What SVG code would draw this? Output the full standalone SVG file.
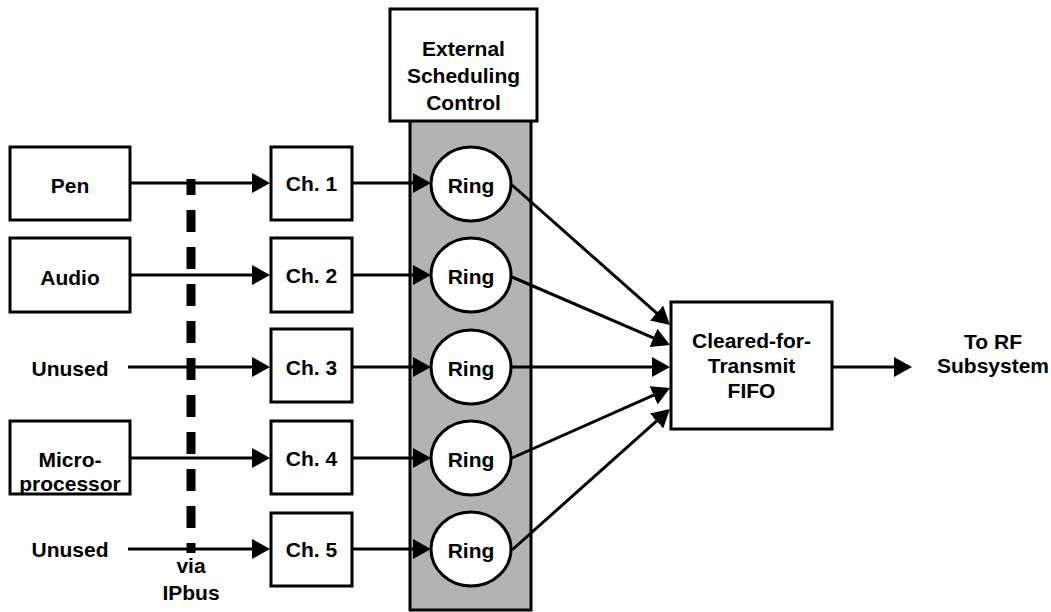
<svg xmlns="http://www.w3.org/2000/svg" width="1051" height="612" viewBox="0 0 1051 612">
  <defs>
    <style>
      .box { fill: #ffffff; stroke: #000000; stroke-width: 3; }
      .ring { fill: #ffffff; stroke: #000000; stroke-width: 3; }
      .lbl { font-family: "Liberation Sans", Arial, Helvetica, sans-serif; font-weight: bold; font-size: 21px; fill: #000000; text-anchor: middle; }
      .wire { fill: none; stroke: #000000; stroke-width: 3; }
      .arrow { fill: none; stroke: #000000; stroke-width: 3; marker-end: url(#ah); }
      .bus { fill: none; stroke: #000000; stroke-width: 9; stroke-dasharray: 22 15; stroke-dashoffset: 6; }
    </style>
    <marker id="ah" markerUnits="userSpaceOnUse" markerWidth="18" markerHeight="20" refX="10" refY="10" orient="auto">
      <path d="M0,0 L18,10 L0,20 Z" fill="#000000"/>
    </marker>
  </defs>

  <rect width="1051" height="612" fill="#ffffff"/>

  <!-- scheduler column (shaded) -->
  <g id="scheduler-column">
    <rect x="410" y="119" width="121" height="491" fill="#b3b3b3" stroke="#000000" stroke-width="3"/>
  </g>

  <!-- connectors -->
  <g id="connectors">
    <!-- sources to channels -->
    <line class="arrow" x1="130" y1="183" x2="262" y2="183"/>
    <line class="arrow" x1="130" y1="275" x2="262" y2="275"/>
    <line class="arrow" x1="128" y1="367" x2="262" y2="367"/>
    <line class="arrow" x1="130" y1="458" x2="262" y2="458"/>
    <line class="arrow" x1="128" y1="549" x2="262" y2="549"/>
    <!-- channels to rings -->
    <line class="arrow" x1="352" y1="183" x2="423" y2="183"/>
    <line class="arrow" x1="352" y1="275" x2="423" y2="275"/>
    <line class="arrow" x1="352" y1="367" x2="423" y2="367"/>
    <line class="arrow" x1="352" y1="458" x2="423" y2="458"/>
    <line class="arrow" x1="352" y1="549" x2="423" y2="549"/>
    <!-- rings to FIFO -->
    <line class="arrow" x1="512" y1="185" x2="664" y2="319.7"/>
    <line class="arrow" x1="512" y1="277" x2="662.6" y2="341.8"/>
    <line class="arrow" x1="512" y1="367" x2="662" y2="367"/>
    <line class="arrow" x1="512" y1="458" x2="662.7" y2="391.2"/>
    <line class="arrow" x1="512" y1="550" x2="664" y2="414.3"/>
    <!-- FIFO output -->
    <line class="arrow" x1="832" y1="367" x2="904" y2="367"/>
    <!-- IPbus -->
    <line class="bus" x1="191" y1="179" x2="191" y2="553"/>
  </g>

  <g id="ext-sched">
    <rect class="box" x="390" y="9" width="147" height="112"/>
    <text class="lbl" x="463.5" y="56">External</text>
    <text class="lbl" x="463.5" y="83">Scheduling</text>
    <text class="lbl" x="463.5" y="110">Control</text>
  </g>

  <g id="src-pen">
    <rect class="box" x="10" y="147" width="120" height="73"/>
    <text class="lbl" x="70" y="193">Pen</text>
  </g>
  <g id="src-audio">
    <rect class="box" x="10" y="238" width="120" height="74"/>
    <text class="lbl" x="70" y="285">Audio</text>
  </g>
  <g id="src-unused-3">
    <text class="lbl" x="70" y="376">Unused</text>
  </g>
  <g id="src-micro">
    <rect class="box" x="10" y="421" width="120" height="73"/>
    <text class="lbl" x="70" y="467">Micro-</text>
    <text class="lbl" x="70" y="491">processor</text>
  </g>
  <g id="src-unused-5">
    <text class="lbl" x="70" y="557">Unused</text>
  </g>
  <g id="bus-label">
    <text class="lbl" x="191" y="573">via</text>
    <text class="lbl" x="191" y="600">IPbus</text>
  </g>

  <g id="ch1">
    <rect class="box" x="271" y="147" width="81" height="73"/>
    <text class="lbl" x="311.5" y="191">Ch. 1</text>
  </g>
  <g id="ch2">
    <rect class="box" x="271" y="238" width="81" height="74"/>
    <text class="lbl" x="311.5" y="283">Ch. 2</text>
  </g>
  <g id="ch3">
    <rect class="box" x="271" y="329" width="81" height="73"/>
    <text class="lbl" x="311.5" y="375">Ch. 3</text>
  </g>
  <g id="ch4">
    <rect class="box" x="271" y="421" width="81" height="73"/>
    <text class="lbl" x="311.5" y="466">Ch. 4</text>
  </g>
  <g id="ch5">
    <rect class="box" x="271" y="513" width="81" height="73"/>
    <text class="lbl" x="311.5" y="557">Ch. 5</text>
  </g>

  <g id="ring1">
    <ellipse class="ring" cx="471" cy="184" rx="40" ry="37"/>
    <text class="lbl" x="471" y="193">Ring</text>
  </g>
  <g id="ring2">
    <ellipse class="ring" cx="471" cy="275" rx="40" ry="37"/>
    <text class="lbl" x="471" y="284">Ring</text>
  </g>
  <g id="ring3">
    <ellipse class="ring" cx="471" cy="367" rx="40" ry="37"/>
    <text class="lbl" x="471" y="376">Ring</text>
  </g>
  <g id="ring4">
    <ellipse class="ring" cx="471" cy="458" rx="40" ry="37"/>
    <text class="lbl" x="471" y="467">Ring</text>
  </g>
  <g id="ring5">
    <ellipse class="ring" cx="471" cy="549" rx="40" ry="37"/>
    <text class="lbl" x="471" y="558">Ring</text>
  </g>

  <g id="fifo">
    <rect class="box" x="671" y="302" width="161" height="127"/>
    <text class="lbl" x="751.5" y="348">Cleared-for-</text>
    <text class="lbl" x="751.5" y="373">Transmit</text>
    <text class="lbl" x="751.5" y="398">FIFO</text>
  </g>

  <g id="rf-out">
    <text class="lbl" x="993" y="349">To RF</text>
    <text class="lbl" x="993" y="373">Subsystem</text>
  </g>
</svg>
